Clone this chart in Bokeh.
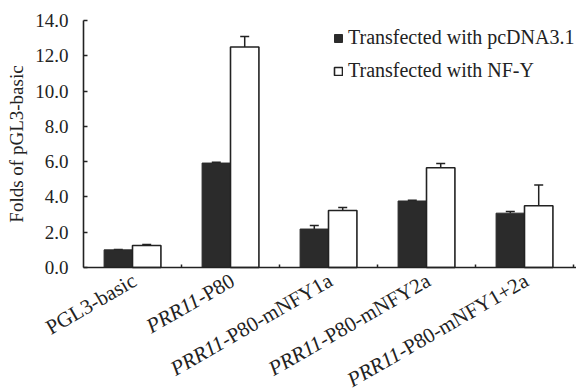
import math
from bokeh.plotting import figure
from bokeh.models import (ColumnDataSource, Range1d, FixedTicker,
                          NumeralTickFormatter, Whisker, TeeHead, Legend, LegendItem)
from bokeh.core.properties import value
from bokeh.transform import dodge
from bokeh.embed import file_html
from bokeh.resources import INLINE

# ---------------- data ----------------
categories = ["PGL3-basic", "PRR11-P80", "PRR11-P80-mNFY1a", "PRR11-P80-mNFY2a", "PRR11-P80-mNFY1+2a"]
label_italic = ["", "PRR11", "PRR11", "PRR11", "PRR11"]
label_plain = ["PGL3-basic", "-P80", "-P80-mNFY1a", "-P80-mNFY2a", "-P80-mNFY1+2a"]
pcdna_values = [1.0, 5.92, 2.18, 3.77, 3.08]
pcdna_errors = [0.02, 0.04, 0.20, 0.04, 0.09]
nfy_values = [1.25, 12.5, 3.23, 5.65, 3.50]
nfy_errors = [0.06, 0.60, 0.17, 0.25, 1.18]
series_names = ["Transfected with pcDNA3.1", "Transfected with NF-Y"]
y_ticks = [0, 2, 4, 6, 8, 10, 12, 14]

FONT = "Liberation Serif"
FS = 19
FS_CAT = 21
INK = "#222222"
DARK = "#2b2b2b"
ANGLE = math.radians(30)

# layout (pixels)
W_PX, H_PX = 576, 390
AXIS_TOP = 20        # pixel row of the value 14
AXIS_X = 83          # pixel column of the y axis
AXIS_END = 573       # pixel column of the last category boundary
AXIS_Y = 267         # pixel row of the value 0
Y_TOP = 14
n = len(categories)
px_per_unit = (AXIS_Y - AXIS_TOP) / Y_TOP
px_per_cat = (AXIS_END - AXIS_X) / n
Y_MIN = -(H_PX - AXIS_Y) / px_per_unit
Y_MAX = Y_TOP + AXIS_TOP / px_per_unit
X_MIN = -AXIS_X / px_per_cat
X_MAX = n + (W_PX - AXIS_END) / px_per_cat

# Times/Liberation Serif regular advance widths (per 1000 em) for label layout
W = {'-': 333, 'P': 556, '8': 500, '0': 500, 'm': 778, 'N': 722, 'F': 556, 'Y': 722,
     '1': 500, '2': 500, 'a': 444, '+': 564, 'G': 722, 'L': 611, '3': 500, 'b': 500,
     's': 389, 'i': 278, 'c': 444}


def text_width(s):
    return sum(W.get(ch, 500) for ch in s) / 1000.0 * FS_CAT


pos = [i + 0.5 for i in range(n)]  # category centres on the numeric axis
end_dx, end_dy = -4, 1              # right end of each label relative to its category centre
jx = [c + (end_dx - text_width(s) * math.cos(ANGLE)) / px_per_cat for c, s in zip(pos, label_plain)]
jy = [-(end_dy + text_width(s) * math.sin(ANGLE)) / px_per_unit for s in label_plain]

src = ColumnDataSource(dict(
    pos=pos,
    pc=pcdna_values, pc_up=[v + e for v, e in zip(pcdna_values, pcdna_errors)],
    nf=nfy_values, nf_up=[v + e for v, e in zip(nfy_values, nfy_errors)],
    it=label_italic, pl=label_plain, jx=jx, jy=jy,
))

p = figure(width=W_PX, height=H_PX, x_range=Range1d(X_MIN, X_MAX), y_range=Range1d(Y_MIN, Y_MAX),
           output_backend="svg", toolbar_location=None,
           min_border_left=0, min_border_right=0, min_border_top=0, min_border_bottom=0)
p.outline_line_color = None
p.grid.visible = False
p.background_fill_color = "white"
p.border_fill_color = "white"

bw = 0.29
r1 = p.vbar(x=dodge('pos', -bw / 2), top='pc', bottom=0, width=bw, source=src,
            fill_color=DARK, line_color=DARK, line_width=1)
r2 = p.vbar(x=dodge('pos', bw / 2), top='nf', bottom=0, width=bw, source=src,
            fill_color="white", line_color=INK, line_width=1.6)

for key, up, off in (("pc", "pc_up", -bw / 2), ("nf", "nf_up", bw / 2)):
    w = Whisker(base=dodge('pos', off), lower=key, upper=up, source=src,
                line_color=INK, line_width=1.5,
                upper_head=TeeHead(size=9, line_color=INK, line_width=1.5), lower_head=None)
    p.add_layout(w)

# y axis drawn at x = 0
ya = p.yaxis[0]
ya.fixed_location = 0
ya.ticker = FixedTicker(ticks=y_ticks)
ya.bounds = (0, Y_TOP)
ya.formatter = NumeralTickFormatter(format="0.0")
ya.major_tick_in = 4
ya.major_tick_out = 0
ya.minor_tick_line_color = None
ya.axis_line_color = INK
ya.axis_line_width = 1.6
ya.major_tick_line_color = INK
ya.major_tick_line_width = 1.5
ya.major_label_text_font = FONT
ya.major_label_text_font_size = f"{FS}px"
ya.major_label_text_color = INK
ya.major_label_standoff = 15
ya.axis_label = "Folds of pGL3-basic"
ya.axis_label_text_font = FONT
ya.axis_label_text_font_size = f"{FS}px"
ya.axis_label_text_font_style = "normal"
ya.axis_label_text_color = INK
ya.axis_label_standoff = 5

# x axis drawn at value 0: ticks at group boundaries, labels drawn separately
xa = p.xaxis[0]
xa.fixed_location = 0
xa.bounds = (0, X_MAX)
xa.ticker = FixedTicker(ticks=list(range(1, n + 1)))
xa.major_tick_in = 3
xa.major_tick_out = 0
xa.minor_tick_line_color = None
xa.axis_line_color = INK
xa.axis_line_width = 1.6
xa.major_tick_line_color = INK
xa.major_tick_line_width = 1.5
xa.major_label_text_font_size = "0px"
xa.major_label_text_color = None
xa.major_label_standoff = 0

# category labels (italic gene name + plain remainder), rotated
common = dict(x='jx', y='jy', source=src, angle=ANGLE,
              text_font=value(FONT), text_font_size=f"{FS_CAT}px", text_color=INK,
              text_baseline="top")
p.text(text='it', text_align="right", text_font_style="italic", **common)
p.text(text='pl', text_align="left", text_font_style="normal", **common)

# legend: bottom-left corner given in pixels from the frame's bottom-left corner
legend = Legend(items=[LegendItem(label=series_names[0], renderers=[r1]),
                       LegendItem(label=series_names[1], renderers=[r2])],
                location=(333, 308), orientation="vertical")
legend.border_line_color = None
legend.background_fill_alpha = 0
legend.label_text_font = FONT
legend.label_text_font_size = "20px"
legend.label_text_color = INK
legend.glyph_width = 10
legend.glyph_height = 10
legend.label_standoff = 5
legend.spacing = 10
legend.padding = 0
legend.margin = 0
p.add_layout(legend)

open("out.html", "w").write(file_html(p, INLINE))
